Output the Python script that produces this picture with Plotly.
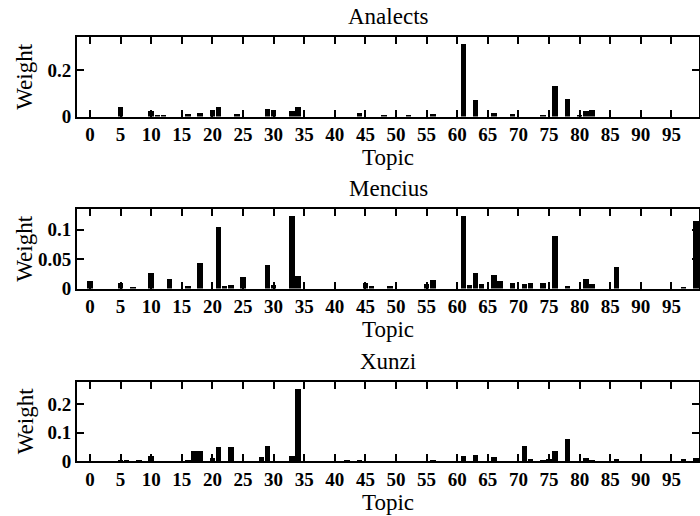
import plotly.graph_objects as go

topics = list(range(100))
titles = ["Analects", "Mencius", "Xunzi"]
x_tick_vals = list(range(0, 100, 5))
x_tick_text = [str(v) for v in x_tick_vals]

analects = {5: 0.039, 10: 0.022, 11: 0.005, 12: 0.007, 16: 0.011, 18: 0.016,
            20: 0.030, 21: 0.039, 24: 0.011, 29: 0.034, 30: 0.028, 33: 0.025,
            34: 0.042, 44: 0.014, 48: 0.005, 52: 0.003, 56: 0.010, 61: 0.312,
            63: 0.071, 66: 0.016, 69: 0.011, 74: 0.007, 76: 0.131, 78: 0.075,
            80: 0.004, 81: 0.024, 82: 0.028}
mencius = {0: 0.012, 5: 0.010, 7: 0.002, 10: 0.027, 13: 0.016, 16: 0.004,
           18: 0.043, 21: 0.104, 22: 0.005, 23: 0.006, 25: 0.019, 29: 0.040,
           30: 0.006, 33: 0.123, 34: 0.022, 45: 0.010, 46: 0.004, 49: 0.004,
           55: 0.008, 56: 0.014, 61: 0.123, 62: 0.006, 63: 0.027, 64: 0.007,
           66: 0.023, 67: 0.013, 69: 0.009, 71: 0.008, 72: 0.010, 74: 0.010,
           76: 0.089, 78: 0.005, 81: 0.017, 82: 0.007, 86: 0.036, 97: 0.003,
           99: 0.115}
xunzi = {5: 0.006, 6: 0.004, 8: 0.003, 10: 0.021, 16: 0.004, 17: 0.036,
         18: 0.037, 20: 0.012, 21: 0.050, 23: 0.050, 28: 0.017, 29: 0.054,
         33: 0.018, 34: 0.256, 42: 0.003, 44: 0.005, 56: 0.006, 61: 0.018,
         63: 0.024, 66: 0.017, 71: 0.054, 72: 0.008, 74: 0.006, 75: 0.010,
         76: 0.036, 78: 0.081, 81: 0.012, 82: 0.005, 86: 0.010, 97: 0.010,
         99: 0.012}

series = [analects, mencius, xunzi]
y_ranges = [[0, 0.342], [0, 0.1355], [0, 0.28]]
y_tick_vals = [[0, 0.2], [0, 0.05, 0.1], [0, 0.1, 0.2]]
y_tick_text = [["0", "0.2"], ["0", "0.05", "0.1"], ["0", "0.1", "0.2"]]

W, H = 700, 516
left_px, right_px = 77, 699
panel_tops = [37, 209, 381.5]
panel_h = 79.5

SERIF = "Liberation Serif"
fig = go.Figure()
tick_font = dict(family=SERIF, size=19, color="black", weight="bold")
label_font = dict(family=SERIF, size=23, color="black")

for i, s in enumerate(series):
    vals = [s.get(t, 0.0) for t in topics]
    suffix = "" if i == 0 else str(i + 1)
    fig.add_trace(go.Bar(x=topics, y=vals, width=0.9,
                         marker=dict(color="black", line=dict(width=0)),
                         xaxis="x" + suffix, yaxis="y" + suffix,
                         showlegend=False, hoverinfo="skip"))
    top = panel_tops[i]
    bot = top + panel_h
    ydom = [1 - bot / H, 1 - top / H]
    xdom = [left_px / W, right_px / W]
    fig.layout["xaxis" + suffix] = dict(
        domain=xdom, anchor="y" + suffix, range=[-2.12, 99.5], automargin=False,
        tickmode="array", tickvals=x_tick_vals, ticktext=x_tick_text,
        ticks="inside", ticklen=7, tickwidth=2, tickcolor="black",
        showline=True, linewidth=2, linecolor="black", mirror="ticks",
        showgrid=False, zeroline=False, tickfont=tick_font)
    fig.layout["yaxis" + suffix] = dict(
        domain=ydom, anchor="x" + suffix, range=y_ranges[i], automargin=False,
        tickmode="array", tickvals=y_tick_vals[i], ticktext=y_tick_text[i],
        ticks="inside", ticklen=7, tickwidth=2, tickcolor="black",
        showline=True, linewidth=2, linecolor="black", mirror="ticks",
        showgrid=False, zeroline=False, tickfont=tick_font)
    cx = (left_px + right_px) / 2 / W
    fig.add_annotation(text=titles[i], xref="paper", yref="paper", x=cx,
                       y=1 - (top - 6) / H, xanchor="center", yanchor="bottom",
                       showarrow=False, font=label_font)
    fig.add_annotation(text="Topic", xref="paper", yref="paper", x=cx,
                       y=1 - (bot + 41) / H, xanchor="center", yanchor="middle",
                       showarrow=False, font=label_font)
    fig.add_annotation(text="Weight", xref="paper", yref="paper", x=25 / W,
                       y=1 - (top + panel_h / 2) / H, xanchor="center",
                       yanchor="middle", textangle=-90,
                       showarrow=False, font=label_font)

fig.update_layout(width=W, height=H, margin=dict(l=0, r=0, t=0, b=0, autoexpand=False),
                  paper_bgcolor="white", plot_bgcolor="white", bargap=0,
                  font=dict(family=SERIF))
fig.write_html("out.html", config={"displayModeBar": False},
               post_script="document.body.style.margin='0';document.body.style.padding='0';")
